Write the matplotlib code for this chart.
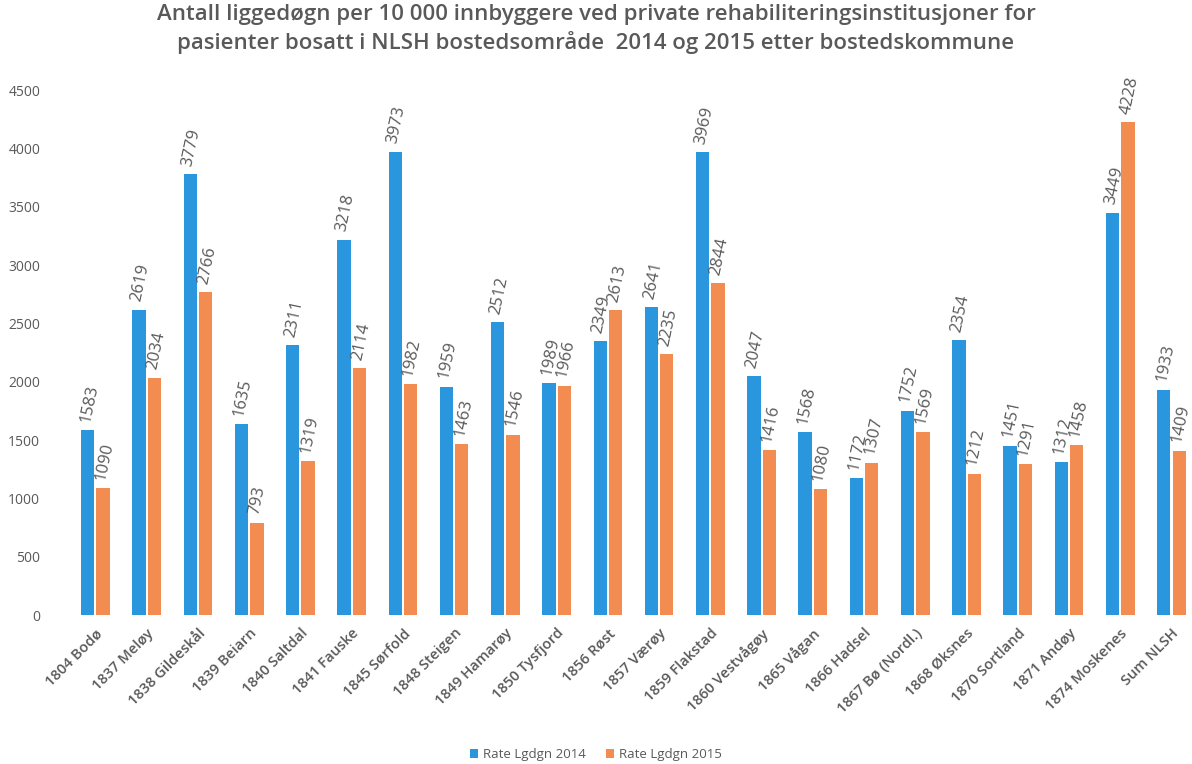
import numpy as np
import matplotlib
matplotlib.use("Agg")
import matplotlib.pyplot as plt

plt.rcParams["font.family"] = ["Open Sans", "DejaVu Sans"]

# Data
kommuner = ["1804 Bodø", "1837 Meløy", "1838 Gildeskål", "1839 Beiarn", "1840 Saltdal",
            "1841 Fauske", "1845 Sørfold", "1848 Steigen", "1849 Hamarøy", "1850 Tysfjord",
            "1856 Røst", "1857 Værøy", "1859 Flakstad", "1860 Vestvågøy", "1865 Vågan",
            "1866 Hadsel", "1867 Bø (Nordl.)", "1868 Øksnes", "1870 Sortland", "1871 Andøy",
            "1874 Moskenes", "Sum NLSH"]
rate_2014 = [1583, 2619, 3779, 1635, 2311, 3218, 3973, 1959, 2512, 1989, 2349,
             2641, 3969, 2047, 1568, 1172, 1752, 2354, 1451, 1312, 3449, 1933]
rate_2015 = [1090, 2034, 2766, 793, 1319, 2114, 1982, 1463, 1546, 1966, 2613,
             2235, 2844, 1416, 1080, 1307, 1569, 1212, 1291, 1458, 4228, 1409]

blue = "#2a96de"
orange = "#f28c50"
grey = "#595959"

fig = plt.figure(figsize=(11.92, 7.64), dpi=100)
ax = fig.add_axes([0.05, 0.195, 0.95, 0.687])

x = np.arange(len(kommuner))
w = 0.26
b1 = ax.bar(x - w / 2 - 0.02, rate_2014, w, color=blue, label="Rate Lgdgn 2014")
b2 = ax.bar(x + w / 2 + 0.02, rate_2015, w, color=orange, label="Rate Lgdgn 2015")

# value labels, tilted, starting just above each bar
for bars in (b1, b2):
    for rect in bars:
        h = rect.get_height()
        ax.text(rect.get_x() + rect.get_width() / 2 - 0.05, h + 70, str(int(h)),
                rotation=78, ha="left", va="center", fontsize=12,
                color=grey, rotation_mode="anchor")

ax.set_xlim(-0.7, 21.4)
ax.set_ylim(0, 4500)
ax.set_yticks(range(0, 4501, 500))
ax.tick_params(axis="y", length=0, pad=14, labelsize=10, labelcolor=grey)
ax.set_xticks(x)
ax.set_xticklabels(kommuner, rotation=45, ha="right", rotation_mode="anchor",
                   fontsize=10.5, color=grey, fontweight="semibold")
ax.tick_params(axis="x", length=0, pad=8)
for s in ax.spines.values():
    s.set_visible(False)

fig.suptitle("Antall liggedøgn per 10 000 innbyggere ved private rehabiliteringsinstitusjoner for\n"
             "pasienter bosatt i NLSH bostedsområde  2014 og 2015 etter bostedskommune",
             y=0.995, fontsize=16, color=grey, linespacing=1.35, fontweight="semibold")

fig.legend(loc="lower center", ncol=2, frameon=False, fontsize=9.5,
           labelcolor=grey, handlelength=0.6, handleheight=0.6,
           bbox_to_anchor=(0.5, -0.012), columnspacing=1.5, handletextpad=0.4)

fig.savefig("out.png", dpi=100)
